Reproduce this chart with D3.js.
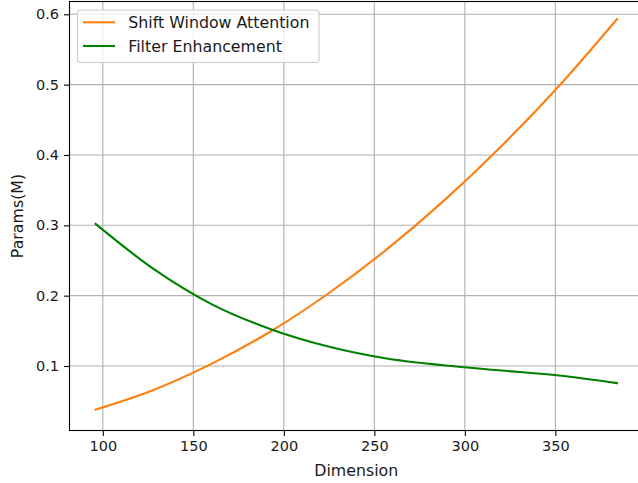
<!DOCTYPE html>
<html>
<head>
<meta charset="utf-8">
<script src="https://cdn.jsdelivr.net/npm/d3@7"></script>
<style>
  html, body { margin: 0; padding: 0; background: #fff; }
  svg { display: block; font-family: "DejaVu Sans", sans-serif; }
</style>
</head>
<body>
<div id="chart"></div>
<script>
// data
const dims = [96, 128, 160, 192, 224, 256, 288, 320, 352, 384];
const shiftWindow = [0.038, 0.066, 0.103, 0.148, 0.202, 0.264, 0.334, 0.412, 0.498, 0.593];
const filterEnh = [0.302, 0.238, 0.188, 0.153, 0.128, 0.111, 0.101, 0.0935, 0.0865, 0.0756];
const xTicks = [100, 150, 200, 250, 300, 350];
const yTicks = [0.1, 0.2, 0.3, 0.4, 0.5, 0.6];

const seriesList = [
    { name: "Shift Window Attention", values: shiftWindow, color: "#ff7f0e" },
    { name: "Filter Enhancement", values: filterEnh, color: "#008000" }
];

function renderChart() {
    const width = 638, height = 483;
    const plot = { left: 69.5, right: 643, top: 1.5, bottom: 430.5 };

    const svg = d3.select("#chart").append("svg")
        .attr("width", width)
        .attr("height", height);

    const x = d3.scaleLinear().domain([81.6, 398.4]).range([plot.left, plot.right]);
    const y = d3.scaleLinear().domain([0.0083, 0.6182]).range([plot.bottom, plot.top]);

    // grid
    const grid = svg.append("g").attr("stroke", "#b0b0b0").attr("stroke-width", 1.1);
    grid.selectAll(".gx").data(xTicks).enter().append("line")
        .attr("x1", d => x(d)).attr("x2", d => x(d))
        .attr("y1", plot.top).attr("y2", plot.bottom);
    grid.selectAll(".gy").data(yTicks).enter().append("line")
        .attr("x1", plot.left).attr("x2", plot.right)
        .attr("y1", d => y(d)).attr("y2", d => y(d));

    // lines
    const line = d3.line()
        .x((d, i) => x(dims[i]))
        .y(d => y(d))
        .curve(d3.curveMonotoneX);

    svg.selectAll(".series").data(seriesList).enter().append("path")
        .attr("fill", "none")
        .attr("stroke", d => d.color)
        .attr("stroke-width", 2.1)
        .attr("stroke-linecap", "square")
        .attr("d", d => line(d.values));

    // spines
    svg.append("rect")
        .attr("x", plot.left).attr("y", plot.top)
        .attr("width", plot.right - plot.left).attr("height", plot.bottom - plot.top)
        .attr("fill", "none").attr("stroke", "#000").attr("stroke-width", 1.1);

    // axes
    const xAxis = d3.axisBottom(x).tickValues(xTicks).tickSize(5.5).tickPadding(5).tickFormat(d3.format("d"));
    const yAxis = d3.axisLeft(y).tickValues(yTicks).tickSize(5.5).tickPadding(5).tickFormat(d3.format(".1f"));

    const gx = svg.append("g").attr("transform", `translate(0,${plot.bottom})`).call(xAxis);
    const gy = svg.append("g").attr("transform", `translate(${plot.left},0)`).call(yAxis);
    [gx, gy].forEach(g => {
        g.select(".domain").remove();
        g.selectAll(".tick line").attr("stroke", "#000").attr("stroke-width", 1.1);
        g.selectAll(".tick text")
            .attr("fill", "#1a1a1a")
            .style("font-family", "DejaVu Sans")
            .style("font-size", "14.5px");
    });

    // axis labels
    svg.append("text")
        .attr("x", (plot.left + plot.right) / 2)
        .attr("y", 476)
        .attr("text-anchor", "middle")
        .attr("fill", "#1a1a1a")
        .style("font-size", "15.8px")
        .text("Dimension");

    svg.append("text")
        .attr("transform", `translate(23,${(plot.top + plot.bottom) / 2}) rotate(-90)`)
        .attr("text-anchor", "middle")
        .attr("fill", "#1a1a1a")
        .style("font-size", "15.8px")
        .text("Params(M)");

    // legend
    const legend = svg.append("g");
    legend.append("rect")
        .attr("x", 77.5).attr("y", 10)
        .attr("width", 241.5).attr("height", 52.5)
        .attr("rx", 3)
        .attr("fill", "#fff").attr("fill-opacity", 0.8)
        .attr("stroke", "#cccccc").attr("stroke-width", 1.1);

    const items = legend.selectAll(".item").data(seriesList).enter().append("g")
        .attr("transform", (d, i) => `translate(0,${22.3 + i * 23.7})`);
    items.append("line")
        .attr("x1", 83).attr("x2", 115)
        .attr("stroke", d => d.color).attr("stroke-width", 2.1);
    items.append("text")
        .attr("x", 128.3)
        .attr("dy", "0.35em")
        .style("font-size", "15.8px")
        .attr("fill", "#1a1a1a")
        .text(d => d.name);
}

document.addEventListener("DOMContentLoaded", renderChart);
</script>
</body>
</html>
